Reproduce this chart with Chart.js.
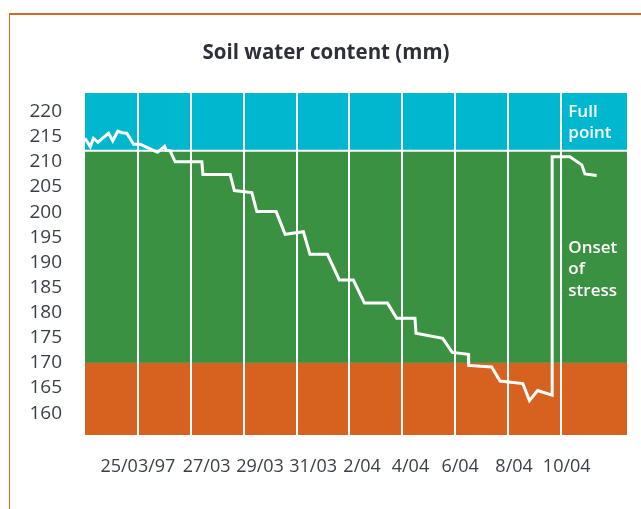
<!DOCTYPE html>
<html>
<head>
<meta charset="utf-8">
<script src="https://cdn.jsdelivr.net/npm/chart.js@4.4.1/dist/chart.umd.min.js"></script>
<style>
  html, body { margin: 0; padding: 0; background: #fff; }
  #wrap { position: relative; width: 641px; height: 509px; overflow: hidden; }
  #frame { position: absolute; left: 9px; top: 13px; right: 0; bottom: 0;
           border-left: 1px solid #db6421; border-top: 2px solid #db6421; }
  #chart { position: absolute; left: 0; top: 0; }
</style>
</head>
<body>
<div id="wrap">
  <div id="frame"></div>
  <canvas id="chart" width="641" height="509"></canvas>
</div>
<script>
// days counted from 25/03/97
const dayOffsets = [-2.0, -1.8, -1.68, -1.51, -1.11, -0.95, -0.76, -0.6, -0.42, -0.16, 0.09, 0.74, 1.01, 1.07, 1.22,
  1.41, 2.42, 2.46, 3.49, 3.65, 4.31, 4.5, 5.23, 5.57, 6.26, 6.51, 7.17, 7.62, 8.15, 8.57, 9.44, 9.79, 10.48, 10.52,
  11.53, 11.89, 12.5, 12.51, 13.38, 13.7, 14.56, 14.81, 15.12, 15.67, 15.67, 16.34, 16.79, 16.91, 17.35];
const soilWater = [214.7, 213.0, 214.7, 213.9, 215.7, 214.2, 216.1, 215.8, 215.7, 213.5, 213.5, 211.9, 213.1, 212.3, 212.2,
  210.0, 210.0, 207.5, 207.5, 204.3, 203.9, 200.1, 200.1, 195.6, 196.1, 191.6, 191.6, 186.5, 186.5, 181.9, 181.9, 178.9, 178.9, 175.9,
  174.9, 172.1, 171.7, 169.5, 169.2, 166.4, 165.9, 162.5, 164.5, 163.6, 211.0, 211.0, 209.4, 207.6, 207.3];

// gridlines every 2 days, date labels sit a little off the gridlines
const gridDays = [0, 2, 4, 6, 8, 10, 12, 14, 16];
const labelDays = [0, 2.6, 4.62, 6.63, 8.48, 10.31, 12.19, 14.23, 16.22];
const dateLabels = ['25/03/97', '27/03', '29/03', '31/03', '2/04', '4/04', '6/04', '8/04', '10/04'];
const yTicks = [160, 165, 170, 175, 180, 185, 190, 195, 200, 205, 210, 215, 220];

const fullPoint = 212.2;
const stressPoint = 170;
const zoneLabels = [['Full', 'point'], ['Onset', 'of', 'stress']];
const zoneLabelValues = [219.9, 192.9];
const zoneLabelDay = 16.28;

const FONT = "'Open Sans', 'Noto Sans', sans-serif";
const X_MIN = -2, X_MAX = 18.5;

// coloured zones behind the line + white full point line
const zonesPlugin = {
  id: 'zones',
  beforeDraw(chart) {
    const { ctx, chartArea: a, scales: { y } } = chart;
    const yFull = y.getPixelForValue(fullPoint);
    const yStress = y.getPixelForValue(stressPoint);
    ctx.save();
    ctx.fillStyle = '#00b7d0';
    ctx.fillRect(a.left, a.top, a.width, yFull - a.top);
    ctx.fillStyle = '#3a9142';
    ctx.fillRect(a.left, yFull, a.width, yStress - yFull);
    ctx.fillStyle = '#d7621f';
    ctx.fillRect(a.left, yStress, a.width, a.bottom - yStress);
    ctx.strokeStyle = '#ffffff';
    ctx.lineWidth = 2;
    ctx.beginPath();
    ctx.moveTo(a.left, yFull);
    ctx.lineTo(a.right, yFull);
    ctx.stroke();
    ctx.restore();
  },
  afterDatasetsDraw(chart) {
    const { ctx, scales: { x, y } } = chart;
    ctx.save();
    ctx.fillStyle = '#ffffff';
    ctx.font = '600 17px ' + FONT;
    ctx.textAlign = 'left';
    ctx.textBaseline = 'middle';
    const px = x.getPixelForValue(zoneLabelDay);
    zoneLabels.forEach((lines, i) => {
      const py = y.getPixelForValue(zoneLabelValues[i]);
      lines.forEach((t, j) => ctx.fillText(t, px, py + j * 21.5));
    });
    ctx.restore();
  }
};

new Chart(document.getElementById('chart'), {
  type: 'line',
  data: {
    datasets: [{
      data: dayOffsets.map((d, i) => ({ x: d, y: soilWater[i] })),
      borderColor: '#ffffff',
      borderWidth: 3,
      pointRadius: 0,
      tension: 0,
      fill: false
    }]
  },
  options: {
    responsive: false,
    animation: false,
    layout: { padding: { left: 25, right: 14, top: 0, bottom: 31 } },
    plugins: {
      legend: { display: false },
      tooltip: { enabled: false },
      title: {
        display: true,
        text: 'Soil water content (mm)',
        color: '#2d3039',
        font: { family: FONT, size: 20.5, weight: 'bold' },
        padding: { top: 40.7, bottom: 27.7 }
      }
    },
    scales: {
      x: {
        type: 'linear',
        min: X_MIN,
        max: X_MAX,
        afterBuildTicks: s => { s.ticks = labelDays.map(v => ({ value: v })); },
        afterFit: s => { s.height = 43; },
        ticks: {
          color: '#3a3e48',
          padding: 21,
          maxRotation: 0,
          autoSkip: false,
          font: { family: FONT, size: 18 },
          callback: (v, i) => dateLabels[i]
        },
        grid: { display: false, drawTicks: false },
        border: { display: false }
      },
      xGrid: {
        type: 'linear',
        position: 'bottom',
        min: X_MIN,
        max: X_MAX,
        afterBuildTicks: s => { s.ticks = gridDays.map(v => ({ value: v })); },
        afterFit: s => { s.height = 0; },
        ticks: { display: false },
        grid: { color: '#ffffff', lineWidth: 2, drawTicks: false },
        border: { display: false }
      },
      y: {
        min: 155.66,
        max: 223.7,
        afterBuildTicks: s => { s.ticks = yTicks.map(v => ({ value: v })); },
        afterFit: s => { s.width = 60; s.paddingTop = 0; s.paddingBottom = 0; },
        ticks: {
          color: '#3a3e48',
          padding: 23,
          font: { family: FONT, size: 19 },
          callback: v => v
        },
        grid: { display: false, drawTicks: false },
        border: { display: false }
      }
    }
  },
  plugins: [zonesPlugin]
});
</script>
</body>
</html>
